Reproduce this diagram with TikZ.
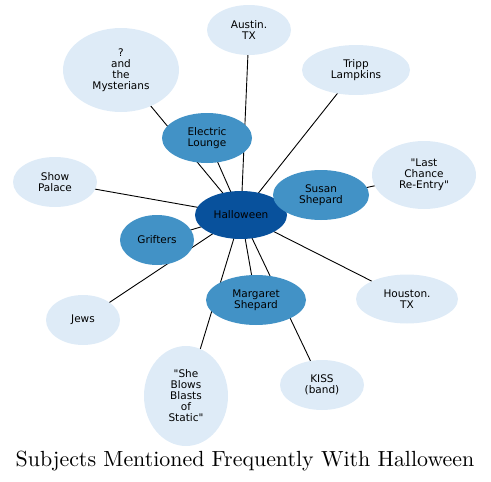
\documentclass[tikz,border=0pt]{standalone}
\usepackage{fontspec}
\newfontfamily\nodefont{DejaVu Sans}
\newfontfamily\titlefont{lmroman10-regular}[Extension=.otf]
\usetikzlibrary{shapes.geometric,backgrounds}
\definecolor{cdark}{HTML}{08519C}
\definecolor{cmid}{HTML}{4292C6}
\definecolor{clight}{HTML}{DEEBF7}
\tikzset{
  bub/.style={ellipse, inner sep=0pt, font=\nodefont\fontsize{10.5}{11}\selectfont, align=center, text=black},
  hub/.style={bub, fill=cdark},
  midn/.style={bub, fill=cmid},
  leaf/.style={bub, fill=clight},
  edge/.style={draw=black, line width=0.9pt},
}
\begin{document}
\begin{tikzpicture}[x=1pt,y=-1pt]
\useasboundingbox (0,0) rectangle (491,482);
% nodes
\node[hub, minimum width=92pt, minimum height=48pt] (hal) at (241,215) {Halloween};
\node[midn, minimum width=90pt, minimum height=50pt] (el) at (207,138) {Electric\\Lounge};
\node[midn, minimum width=96pt, minimum height=50pt] (ss) at (321,195) {Susan\\Shepard};
\node[midn, minimum width=74pt, minimum height=50pt] (gr) at (157,240) {Grifters};
\node[midn, minimum width=100pt, minimum height=50pt] (ms) at (256,300) {Margaret\\Shepard};
\node[leaf, minimum width=116pt, minimum height=84pt] (my) at (121,70) {?\\and\\the\\Mysterians};
\node[leaf, minimum width=84pt, minimum height=50pt] (au) at (249,30) {Austin.\\TX};
\node[leaf, minimum width=108pt, minimum height=50pt] (tl) at (356,70) {Tripp\\Lampkins};
\node[leaf, minimum width=104pt, minimum height=68pt] (lc) at (424,175) {"Last\\Chance\\Re-Entry"};
\node[leaf, minimum width=84pt, minimum height=50pt] (sp) at (55,182) {Show\\Palace};
\node[leaf, minimum width=102pt, minimum height=49pt] (ho) at (407,299) {Houston.\\TX};
\node[leaf, minimum width=74pt, minimum height=50pt] (jw) at (83,320) {Jews};
\node[leaf, minimum width=84pt, minimum height=50pt] (ki) at (322,385) {KISS\\(band)};
\node[leaf, minimum width=84pt, minimum height=100pt] (sb) at (186,396) {"She\\Blows\\Blasts\\of\\Static"};
% edges behind nodes
\begin{scope}[on background layer]
\foreach \t in {el,ss,gr,ms,my,au,tl,lc,sp,ho,jw,ki,sb}
  \draw[edge] (hal.center) -- (\t.center);
\end{scope}
\node[font=\titlefont\fontsize{21.9}{24}\selectfont, anchor=base, inner sep=0pt] (title) at (245,466) {Subjects Mentioned Frequently With Halloween};
\end{tikzpicture}
\end{document}
